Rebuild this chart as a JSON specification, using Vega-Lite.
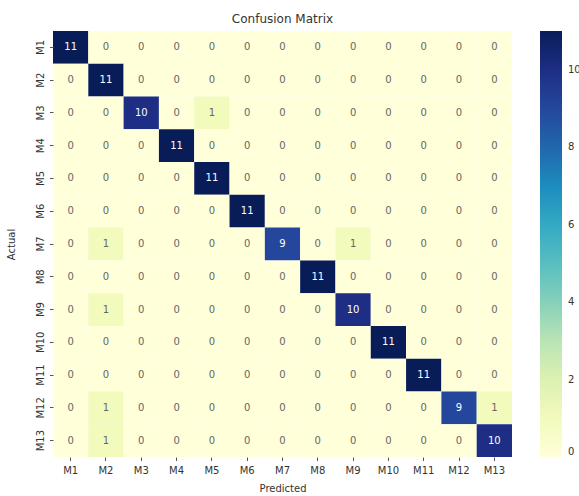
{
  "$schema": "https://vega.github.io/schema/vega-lite/v6.json",
  "width": 459,
  "height": 426,
  "autosize": {"type": "none"},
  "padding": {"left": 53, "top": 31, "right": 67, "bottom": 39},
  "background": "white",
  "config": {
    "font": "DejaVu Sans",
    "view": {"stroke": null},
    "axis": {"domain": false, "ticks": true, "tickColor": "#555", "tickSize": 3.5, "labelColor": "#333", "labelFontSize": 10, "titleFontSize": 10, "titleFontWeight": "normal", "titleColor": "#333", "grid": false}
  },
  "title": {"text": "Confusion Matrix", "fontSize": 12, "fontWeight": "normal", "color": "#333", "offset": 5},
  "data": {"values": [
    {"a":"M1","p":"M1","v":11},{"a":"M1","p":"M2","v":0},{"a":"M1","p":"M3","v":0},{"a":"M1","p":"M4","v":0},{"a":"M1","p":"M5","v":0},{"a":"M1","p":"M6","v":0},{"a":"M1","p":"M7","v":0},{"a":"M1","p":"M8","v":0},{"a":"M1","p":"M9","v":0},{"a":"M1","p":"M10","v":0},{"a":"M1","p":"M11","v":0},{"a":"M1","p":"M12","v":0},{"a":"M1","p":"M13","v":0},
    {"a":"M2","p":"M1","v":0},{"a":"M2","p":"M2","v":11},{"a":"M2","p":"M3","v":0},{"a":"M2","p":"M4","v":0},{"a":"M2","p":"M5","v":0},{"a":"M2","p":"M6","v":0},{"a":"M2","p":"M7","v":0},{"a":"M2","p":"M8","v":0},{"a":"M2","p":"M9","v":0},{"a":"M2","p":"M10","v":0},{"a":"M2","p":"M11","v":0},{"a":"M2","p":"M12","v":0},{"a":"M2","p":"M13","v":0},
    {"a":"M3","p":"M1","v":0},{"a":"M3","p":"M2","v":0},{"a":"M3","p":"M3","v":10},{"a":"M3","p":"M4","v":0},{"a":"M3","p":"M5","v":1},{"a":"M3","p":"M6","v":0},{"a":"M3","p":"M7","v":0},{"a":"M3","p":"M8","v":0},{"a":"M3","p":"M9","v":0},{"a":"M3","p":"M10","v":0},{"a":"M3","p":"M11","v":0},{"a":"M3","p":"M12","v":0},{"a":"M3","p":"M13","v":0},
    {"a":"M4","p":"M1","v":0},{"a":"M4","p":"M2","v":0},{"a":"M4","p":"M3","v":0},{"a":"M4","p":"M4","v":11},{"a":"M4","p":"M5","v":0},{"a":"M4","p":"M6","v":0},{"a":"M4","p":"M7","v":0},{"a":"M4","p":"M8","v":0},{"a":"M4","p":"M9","v":0},{"a":"M4","p":"M10","v":0},{"a":"M4","p":"M11","v":0},{"a":"M4","p":"M12","v":0},{"a":"M4","p":"M13","v":0},
    {"a":"M5","p":"M1","v":0},{"a":"M5","p":"M2","v":0},{"a":"M5","p":"M3","v":0},{"a":"M5","p":"M4","v":0},{"a":"M5","p":"M5","v":11},{"a":"M5","p":"M6","v":0},{"a":"M5","p":"M7","v":0},{"a":"M5","p":"M8","v":0},{"a":"M5","p":"M9","v":0},{"a":"M5","p":"M10","v":0},{"a":"M5","p":"M11","v":0},{"a":"M5","p":"M12","v":0},{"a":"M5","p":"M13","v":0},
    {"a":"M6","p":"M1","v":0},{"a":"M6","p":"M2","v":0},{"a":"M6","p":"M3","v":0},{"a":"M6","p":"M4","v":0},{"a":"M6","p":"M5","v":0},{"a":"M6","p":"M6","v":11},{"a":"M6","p":"M7","v":0},{"a":"M6","p":"M8","v":0},{"a":"M6","p":"M9","v":0},{"a":"M6","p":"M10","v":0},{"a":"M6","p":"M11","v":0},{"a":"M6","p":"M12","v":0},{"a":"M6","p":"M13","v":0},
    {"a":"M7","p":"M1","v":0},{"a":"M7","p":"M2","v":1},{"a":"M7","p":"M3","v":0},{"a":"M7","p":"M4","v":0},{"a":"M7","p":"M5","v":0},{"a":"M7","p":"M6","v":0},{"a":"M7","p":"M7","v":9},{"a":"M7","p":"M8","v":0},{"a":"M7","p":"M9","v":1},{"a":"M7","p":"M10","v":0},{"a":"M7","p":"M11","v":0},{"a":"M7","p":"M12","v":0},{"a":"M7","p":"M13","v":0},
    {"a":"M8","p":"M1","v":0},{"a":"M8","p":"M2","v":0},{"a":"M8","p":"M3","v":0},{"a":"M8","p":"M4","v":0},{"a":"M8","p":"M5","v":0},{"a":"M8","p":"M6","v":0},{"a":"M8","p":"M7","v":0},{"a":"M8","p":"M8","v":11},{"a":"M8","p":"M9","v":0},{"a":"M8","p":"M10","v":0},{"a":"M8","p":"M11","v":0},{"a":"M8","p":"M12","v":0},{"a":"M8","p":"M13","v":0},
    {"a":"M9","p":"M1","v":0},{"a":"M9","p":"M2","v":1},{"a":"M9","p":"M3","v":0},{"a":"M9","p":"M4","v":0},{"a":"M9","p":"M5","v":0},{"a":"M9","p":"M6","v":0},{"a":"M9","p":"M7","v":0},{"a":"M9","p":"M8","v":0},{"a":"M9","p":"M9","v":10},{"a":"M9","p":"M10","v":0},{"a":"M9","p":"M11","v":0},{"a":"M9","p":"M12","v":0},{"a":"M9","p":"M13","v":0},
    {"a":"M10","p":"M1","v":0},{"a":"M10","p":"M2","v":0},{"a":"M10","p":"M3","v":0},{"a":"M10","p":"M4","v":0},{"a":"M10","p":"M5","v":0},{"a":"M10","p":"M6","v":0},{"a":"M10","p":"M7","v":0},{"a":"M10","p":"M8","v":0},{"a":"M10","p":"M9","v":0},{"a":"M10","p":"M10","v":11},{"a":"M10","p":"M11","v":0},{"a":"M10","p":"M12","v":0},{"a":"M10","p":"M13","v":0},
    {"a":"M11","p":"M1","v":0},{"a":"M11","p":"M2","v":0},{"a":"M11","p":"M3","v":0},{"a":"M11","p":"M4","v":0},{"a":"M11","p":"M5","v":0},{"a":"M11","p":"M6","v":0},{"a":"M11","p":"M7","v":0},{"a":"M11","p":"M8","v":0},{"a":"M11","p":"M9","v":0},{"a":"M11","p":"M10","v":0},{"a":"M11","p":"M11","v":11},{"a":"M11","p":"M12","v":0},{"a":"M11","p":"M13","v":0},
    {"a":"M12","p":"M1","v":0},{"a":"M12","p":"M2","v":1},{"a":"M12","p":"M3","v":0},{"a":"M12","p":"M4","v":0},{"a":"M12","p":"M5","v":0},{"a":"M12","p":"M6","v":0},{"a":"M12","p":"M7","v":0},{"a":"M12","p":"M8","v":0},{"a":"M12","p":"M9","v":0},{"a":"M12","p":"M10","v":0},{"a":"M12","p":"M11","v":0},{"a":"M12","p":"M12","v":9},{"a":"M12","p":"M13","v":1},
    {"a":"M13","p":"M1","v":0},{"a":"M13","p":"M2","v":1},{"a":"M13","p":"M3","v":0},{"a":"M13","p":"M4","v":0},{"a":"M13","p":"M5","v":0},{"a":"M13","p":"M6","v":0},{"a":"M13","p":"M7","v":0},{"a":"M13","p":"M8","v":0},{"a":"M13","p":"M9","v":0},{"a":"M13","p":"M10","v":0},{"a":"M13","p":"M11","v":0},{"a":"M13","p":"M12","v":0},{"a":"M13","p":"M13","v":10}
  ]},
  "encoding": {
    "x": {"field": "p", "type": "nominal", "sort": ["M1","M2","M3","M4","M5","M6","M7","M8","M9","M10","M11","M12","M13"], "title": "Predicted", "scale": {"paddingInner": 0, "paddingOuter": 0}, "axis": {"labelAngle": 0, "labelPadding": 5, "titlePadding": 8}},
    "y": {"field": "a", "type": "nominal", "sort": ["M1","M2","M3","M4","M5","M6","M7","M8","M9","M10","M11","M12","M13"], "title": "Actual", "scale": {"paddingInner": 0, "paddingOuter": 0}, "axis": {"labelAngle": -90, "labelAlign": "center", "labelBaseline": "bottom", "labelPadding": 4, "titleX": -37}}
  },
  "layer": [
    {
      "mark": {"type": "rect"},
      "encoding": {
        "color": {"field": "v", "type": "quantitative", "scale": {"domain": [0, 11], "range": ["#ffffd9", "#edf8b1", "#c7e9b4", "#7fcdbb", "#41b6c4", "#1d91c0", "#225ea8", "#253494", "#081d58"], "interpolate": "rgb"},
          "legend": {"title": null, "orient": "right", "offset": 28, "gradientLength": 426, "gradientThickness": 22, "values": [0,2,4,6,8,10], "labelFontSize": 10, "labelColor": "#333", "labelOffset": 6, "gradientStrokeWidth": 0}}
      }
    },
    {
      "mark": {"type": "text", "fontSize": 10},
      "encoding": {
        "text": {"field": "v", "type": "quantitative"},
        "color": {"condition": {"test": "datum.v > 5", "value": "#ffffff"}, "value": "#666666"}
      }
    }
  ]
}
